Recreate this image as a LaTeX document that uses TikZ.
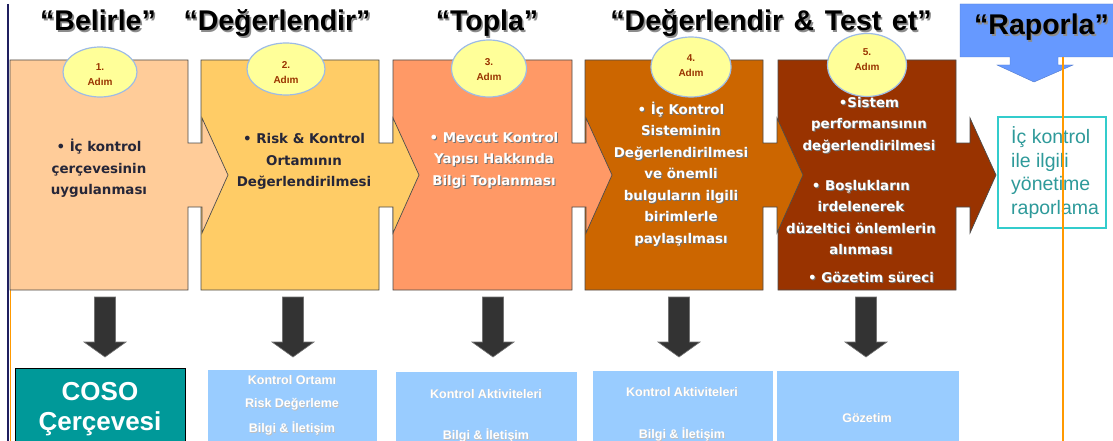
\documentclass[tikz,border=0pt]{standalone}
\usepackage{fontspec}
\setmainfont{Liberation Sans}
\newfontfamily\stepfont{DejaVu Sans}
\usetikzlibrary{shapes.geometric}

\definecolor{cBoxA}{HTML}{FFCC99}
\definecolor{cBoxB}{HTML}{FFCC66}
\definecolor{cBoxC}{HTML}{FF9966}
\definecolor{cBoxD}{HTML}{CC6600}
\definecolor{cBoxE}{HTML}{993300}
\definecolor{cOval}{HTML}{FFFF99}
\definecolor{cOvalLine}{HTML}{9DBBE6}
\definecolor{cStepNo}{HTML}{993300}
\definecolor{cDark}{HTML}{262638}
\definecolor{cArrow}{HTML}{333333}
\definecolor{cPale}{HTML}{99CCFF}
\definecolor{cCoso}{HTML}{009999}
\definecolor{cReport}{HTML}{6699FF}
\definecolor{cTealLine}{HTML}{33CCCC}
\definecolor{cTealText}{HTML}{2E9A9A}
\definecolor{cNavy}{HTML}{1F1F5F}
\definecolor{cOrange}{HTML}{FF9900}

% text with a small drop shadow: #1 shadow colour, #2 offset, #3 text
\newcommand\dropshadowed[3]{\makebox[0pt][l]{\kern#2\raisebox{-#2}{\color{#1}#3}}#3}
% white box text with a dark shadow
\newcommand\wsh[1]{\dropshadowed{black!55}{1pt}{#1}}
\newcommand\hsh[1]{\dropshadowed{black!45}{1.6pt}{#1}}

% process step: rectangle with a chevron pointing into the next step
% #1 left, #2 right, #3 fill colour
\newcommand\chevron[3]{%
  \filldraw[fill=#3, draw=black!70, line width=0.7pt]
    (#1,60) -- (#2,60) -- (#2,143) -- (#2+14,143) -- (#2+14,118) -- (#2+40,175)
    -- (#2+14,233) -- (#2+14,207) -- (#2,207) -- (#2,290) -- (#1,290) -- cycle;}

\tikzset{
  pics/downblock/.style={code={
    \filldraw[fill=cArrow, draw=black!55, line width=0.6pt]
      (-10.5,297) -- (10.5,297) -- (10.5,342) -- (21,342) -- (0,357)
      -- (-21,342) -- (-10.5,342) -- cycle;}},
  hdr/.style={font=\fontsize{28.5}{32}\selectfont\bfseries, inner sep=0pt, anchor=base},
  boxtxt/.style={font=\stepfont\bfseries\fontsize{13.4}{21.5}\selectfont, align=center, inner sep=0pt},
  oval/.style={ellipse, draw=cOvalLine, line width=1.2pt, fill=cOval, inner sep=0pt},
  ovaltxt/.style={font=\fontsize{10}{15}\selectfont\bfseries, text=cStepNo, align=center, inner sep=0pt},
  palebox/.style={draw=white, line width=1pt, fill=cPale, anchor=north west, inner sep=0pt},
  paletxt/.style={font=\fontsize{12.5}{14}\selectfont\bfseries, text=white, inner sep=0pt},
}

\begin{document}
\begin{tikzpicture}[x=1pt,y=-1pt]
\useasboundingbox (0,0) rectangle (1113,441);
\fill[white] (0,0) rectangle (1113,441);

% left page border
\draw[cNavy, line width=1.5pt] (8,4) -- (8,441);
\draw[cOrange, line width=1.3pt] (10.5,290) -- (10.5,441);

% headings
\node[hdr] (h1) at (98,31) {\hsh{“Belirle”}};
\node[hdr] (h2) at (277,31) {\hsh{“Değerlendir”}};
\node[hdr] (h3) at (487,31) {\hsh{“Topla”}};
\node[hdr] (h4) at (771,31) {\spaceskip=10.6pt\hsh{“Değerlendir \& Test et”}};

% report call-out arrow
\filldraw[fill=cReport, draw=cReport!80!black, line width=0.4pt]
  (960,4) -- (1120,4) -- (1120,57) -- (1058,57) -- (1058,65) -- (1073,65)
  -- (1034,82) -- (997,65) -- (1010,65) -- (1010,57) -- (960,57) -- cycle;
\node[hdr, anchor=base west] (h5) at (974,35) {\hsh{“Raporla”}};

% process steps, drawn right to left so each chevron lies over the next step
\chevron{778}{956}{cBoxE}
\chevron{585}{763}{cBoxD}
\chevron{393}{572}{cBoxC}
\chevron{201}{379}{cBoxB}
\chevron{10}{188}{cBoxA}

% step badges
\node[oval, minimum width=74pt, minimum height=50pt] (o1) at (100,72) {};
\node[oval, minimum width=78pt, minimum height=52pt] (o2) at (286,69) {};
\node[oval, minimum width=75pt, minimum height=57pt] (o3) at (489,68.5) {};
\node[oval, minimum width=80pt, minimum height=60pt] (o4) at (691,67) {};
\node[oval, minimum width=79pt, minimum height=63pt] (o5) at (867,65) {};
\node[ovaltxt] (n1) at (100,75) {1.\\Adım};
\node[ovaltxt] (n2) at (286,72.5) {2.\\Adım};
\node[ovaltxt] (n3) at (489,69.5) {3.\\Adım};
\node[ovaltxt] (n4) at (691,65.5) {4.\\Adım};
\node[ovaltxt] (n5) at (867,59.5) {5.\\Adım};

% step descriptions
\node[boxtxt, text=cDark] (t1) at (99,168.5)
  {• İç kontrol\\çerçevesinin\\uygulanması};
\node[boxtxt, text=cDark] (t2) at (304,161.5)
  {• Risk \& Kontrol\\Ortamının\\Değerlendirilmesi};
\node[boxtxt, text=white] (t3) at (494,160.5)
  {\wsh{• Mevcut Kontrol}\\\wsh{Yapısı Hakkında}\\\wsh{Bilgi Toplanması}};
\node[boxtxt, text=white] (t4) at (681,174.5)
  {\wsh{• İç Kontrol}\\\wsh{Sisteminin}\\\wsh{Değerlendirilmesi}\\\wsh{ve önemli}\\%
   \wsh{bulguların ilgili}\\\wsh{birimlerle}\\\wsh{paylaşılması}};
\node[boxtxt, text=white] (t5a) at (869,125.5)
  {\wsh{•Sistem}\\\wsh{performansının}\\\wsh{değerlendirilmesi}};
\node[boxtxt, text=white] (t5b) at (861,218)
  {\wsh{• Boşlukların}\\\wsh{irdelenerek}\\\wsh{düzeltici önlemlerin}\\\wsh{alınması}};
\node[boxtxt, text=white] (t5c) at (871,278) {\wsh{• Gözetim süreci}};

% reporting box
\node[draw=cTealLine, line width=2pt, fill=white, anchor=north west,
      minimum width=108pt, minimum height=111pt, inner sep=0pt] (rep) at (997,116) {};
\node[font=\fontsize{19.5}{23.5}\selectfont, text=cTealText, align=left,
      anchor=west, inner sep=0pt] (reptxt) at (1011,172.5)
  {İç kontrol\\ile ilgili\\yönetime\\raporlama};
\draw[cOrange, line width=1.3pt] (1063,57) -- (1063,441);

% downward arrows
\pic at (105,0) {downblock};
\pic at (293,0) {downblock};
\pic at (493,0) {downblock};
\pic at (679,0) {downblock};
\pic at (866,0) {downblock};

% result boxes
\node[draw=black, line width=0.8pt, fill=cCoso, anchor=north west,
      minimum width=170pt, minimum height=80pt, inner sep=0pt] (coso) at (15,368) {};
\node[font=\fontsize{26}{30}\selectfont\bfseries, text=white, inner sep=0pt, anchor=base] (coso1) at (100,400) {COSO};
\node[font=\fontsize{26}{30}\selectfont\bfseries, text=white, inner sep=0pt, anchor=base] (coso2) at (100,430) {Çerçevesi};

\node[palebox, minimum width=170pt, minimum height=80pt] (pa) at (207,369) {};
\node[palebox, minimum width=182pt, minimum height=80pt] (pb) at (395,371) {};
\node[palebox, minimum width=181pt, minimum height=80pt] (pc) at (592,370) {};
\node[palebox, minimum width=183pt, minimum height=80pt] (pd) at (776,370) {};

\node[paletxt] (pa1) at (292,380) {\dropshadowed{black!25}{0.6pt}{Kontrol Ortamı}};
\node[paletxt] (pa2) at (292,405) {\dropshadowed{black!25}{0.6pt}{Risk Değerleme}};
\node[paletxt] (pa3) at (292,429) {\dropshadowed{black!25}{0.6pt}{Bilgi \& İletişim}};
\node[paletxt] (pb1) at (486,394) {\dropshadowed{black!25}{0.6pt}{Kontrol Aktiviteleri}};
\node[paletxt] (pb2) at (486,436) {\dropshadowed{black!25}{0.6pt}{Bilgi \& İletişim}};
\node[paletxt] (pc1) at (682,392) {\dropshadowed{black!25}{0.6pt}{Kontrol Aktiviteleri}};
\node[paletxt] (pc2) at (682,435) {\dropshadowed{black!25}{0.6pt}{Bilgi \& İletişim}};
\node[paletxt] (pd1) at (867,418) {\dropshadowed{black!25}{0.6pt}{Gözetim}};
\end{tikzpicture}
\end{document}
